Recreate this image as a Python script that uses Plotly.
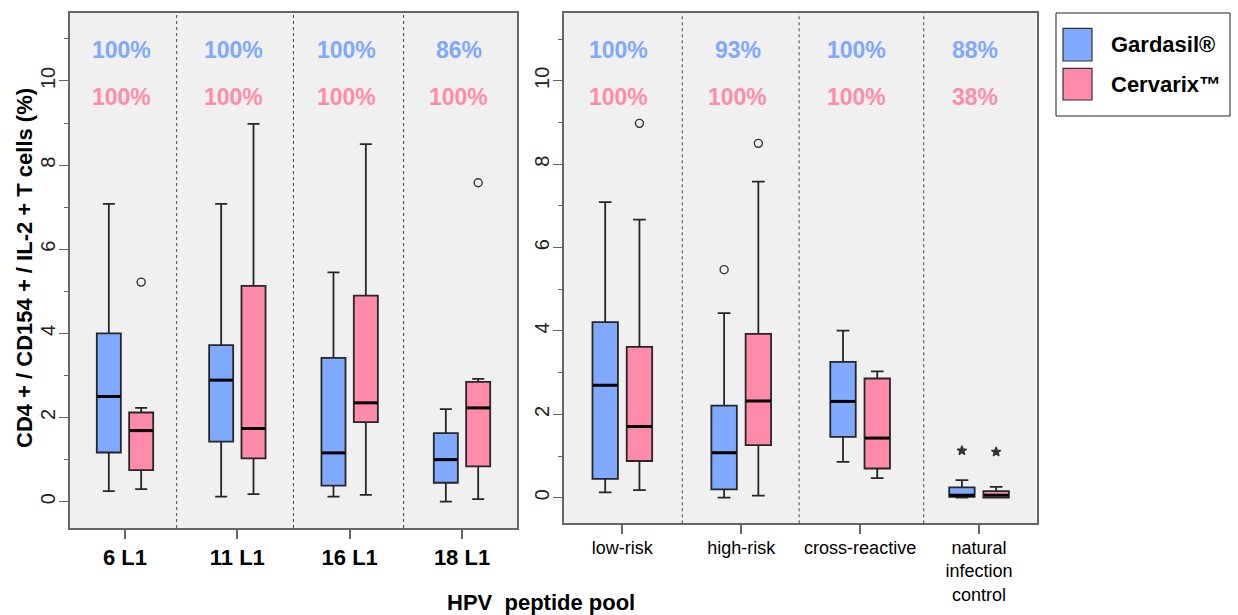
import plotly.graph_objects as go

# ---------------- data ----------------
categories_left = ["6 L1", "11 L1", "16 L1", "18 L1"]
categories_right = ["low-risk", "high-risk", "cross-reactive", "natural<br>infection<br>control"]

# Gardasil, left panel (lower whisker, Q1, median, Q3, upper whisker)
g_left_low = [0.25, 0.12, 0.12, 0.00]
g_left_q1 = [1.17, 1.43, 0.38, 0.45]
g_left_med = [2.50, 2.89, 1.16, 1.00]
g_left_q3 = [4.00, 3.72, 3.42, 1.63]
g_left_up = [7.08, 7.08, 5.45, 2.20]
# Cervarix, left panel
c_left_low = [0.30, 0.18, 0.16, 0.06]
c_left_q1 = [0.75, 1.03, 1.89, 0.84]
c_left_med = [1.69, 1.74, 2.35, 2.23]
c_left_q3 = [2.12, 5.13, 4.90, 2.85]
c_left_up = [2.23, 8.98, 8.50, 2.92]

# Gardasil, right panel
g_right_low = [0.13, 0.00, 0.86, 0.00]
g_right_q1 = [0.45, 0.20, 1.46, 0.02]
g_right_med = [2.70, 1.08, 2.31, 0.06]
g_right_q3 = [4.21, 2.21, 3.26, 0.25]
g_right_up = [7.09, 4.43, 4.01, 0.42]
# Cervarix, right panel
c_right_low = [0.18, 0.05, 0.47, 0.00]
c_right_q1 = [0.88, 1.26, 0.70, 0.00]
c_right_med = [1.71, 2.32, 1.43, 0.06]
c_right_q3 = [3.62, 3.93, 2.86, 0.16]
c_right_up = [6.67, 7.58, 3.03, 0.26]

# outliers (category index, value)
g_left_out_cat, g_left_out_val = [], []
c_left_out_cat, c_left_out_val = [0, 3], [5.22, 7.58]
g_right_out_cat, g_right_out_val = [1], [5.47]
c_right_out_cat, c_right_out_val = [0, 1], [8.98, 8.50]
# extreme values (stars)
g_right_ext_cat, g_right_ext_val = [3], [1.13]
c_right_ext_cat, c_right_ext_val = [3], [1.10]

# responder percentages
g_pct_left = ["100%", "100%", "100%", "86%"]
c_pct_left = ["100%", "100%", "100%", "100%"]
g_pct_right = ["100%", "93%", "100%", "88%"]
c_pct_right = ["100%", "100%", "100%", "38%"]

legend_names = ["Gardasil®", "Cervarix™"]
y_title = "CD4 + / CD154 + / IL-2 + T cells (%)"
x_title = "HPV  peptide pool"

# ---------------- style ----------------
W, H = 1238, 615
FONT = "Liberation Sans, Arial, sans-serif"
BLUE = "#7FAAFF"
PINK = "#FF8AAA"
BLUE_T = "#7FA8FF"
PINK_T = "#FF8CAB"
BG = "#F0F0F0"
FRAME = "#666666"
OFF = 0.144
BW = 0.214


def px_x(p):
    return p / W


def px_y(p):
    return 1 - p / H


fig = go.Figure()


def add_boxes(xa, ya, cats, low, q1, med, q3, up, color, sign):
    pos = [i + sign * OFF for i in range(len(cats))]
    fig.add_trace(go.Box(
        x=pos, q1=q1, median=med, q3=q3, lowerfence=low, upperfence=up,
        width=BW, whiskerwidth=0.5, fillcolor=color,
        line=dict(color="#262626", width=1.8), boxpoints=False,
        xaxis=xa, yaxis=ya, showlegend=False, hoverinfo="skip"))
    mx, my = [], []
    for p, m in zip(pos, med):
        mx += [p - BW / 2 + 0.004, p + BW / 2 - 0.004, None]
        my += [m, m, None]
    fig.add_trace(go.Scatter(x=mx, y=my, mode="lines",
                             line=dict(color="black", width=3),
                             xaxis=xa, yaxis=ya, showlegend=False, hoverinfo="skip"))


def add_points(xa, ya, cats, vals, sign, symbol):
    if not cats:
        return
    fig.add_trace(go.Scatter(
        x=[c + sign * OFF for c in cats], y=vals, mode="markers",
        marker=dict(symbol=symbol, size=8 if symbol == "circle-open" else 7,
                    color="#333333", line=dict(color="#333333", width=1.4)),
        xaxis=xa, yaxis=ya, showlegend=False, hoverinfo="skip"))


add_boxes("x", "y", categories_left, g_left_low, g_left_q1, g_left_med, g_left_q3, g_left_up, BLUE, -1)
add_boxes("x", "y", categories_left, c_left_low, c_left_q1, c_left_med, c_left_q3, c_left_up, PINK, 1)
add_boxes("x2", "y2", categories_right, g_right_low, g_right_q1, g_right_med, g_right_q3, g_right_up, BLUE, -1)
add_boxes("x2", "y2", categories_right, c_right_low, c_right_q1, c_right_med, c_right_q3, c_right_up, PINK, 1)

add_points("x", "y", g_left_out_cat, g_left_out_val, -1, "circle-open")
add_points("x", "y", c_left_out_cat, c_left_out_val, 1, "circle-open")
add_points("x2", "y2", g_right_out_cat, g_right_out_val, -1, "circle-open")
add_points("x2", "y2", c_right_out_cat, c_right_out_val, 1, "circle-open")
add_points("x2", "y2", g_right_ext_cat, g_right_ext_val, -1, "star")
add_points("x2", "y2", c_right_ext_cat, c_right_ext_val, 1, "star")

# percentage labels
annotations = []
for xr, gp, cp in (("x", g_pct_left, c_pct_left), ("x2", g_pct_right, c_pct_right)):
    yr = "y" if xr == "x" else "y2"
    for i, (a, b) in enumerate(zip(gp, cp)):
        annotations.append(dict(x=i - 0.03, y=10.74, xref=xr, yref=yr, text=a, showarrow=False,
                                font=dict(family=FONT, size=23, color=BLUE_T, weight="bold")))
        annotations.append(dict(x=i - 0.03, y=9.62, xref=xr, yref=yr, text=b, showarrow=False,
                                font=dict(family=FONT, size=23, color=PINK_T, weight="bold")))

# titles
annotations.append(dict(x=px_x(540.7), y=px_y(602), xref="paper", yref="paper", text=x_title,
                        showarrow=False, xanchor="center", yanchor="middle",
                        font=dict(family=FONT, size=22, color="black", weight="bold")))
annotations.append(dict(x=px_x(24), y=px_y(268), xref="paper", yref="paper", text=y_title,
                        textangle=-90, showarrow=False, xanchor="center", yanchor="middle",
                        font=dict(family=FONT, size=22, color="black", weight="bold")))

# legend (drawn)
shapes = []
shapes.append(dict(type="rect", xref="paper", yref="paper", x0=px_x(1056), x1=px_x(1230),
                   y0=px_y(116), y1=px_y(13), line=dict(color="#222222", width=1), fillcolor="white"))
for name, col, yt, yb in ((legend_names[0], BLUE, 28.3, 61), (legend_names[1], PINK, 68.3, 100)):
    shapes.append(dict(type="rect", xref="paper", yref="paper", x0=px_x(1063), x1=px_x(1092),
                       y0=px_y(yb), y1=px_y(yt), line=dict(color="#333333", width=1.2), fillcolor=col))
    annotations.append(dict(x=px_x(1109), y=px_y((yt + yb) / 2), xref="paper", yref="paper",
                            text=name, showarrow=False, xanchor="left", yanchor="middle",
                            font=dict(family=FONT, size=22, color="black", weight="bold")))

# dashed dividers
for xr, yr, divs in (("x", "y domain", [0.46, 1.5, 2.48]), ("x2", "y2 domain", [0.504, 1.487, 2.535])):
    for d in divs:
        shapes.append(dict(type="line", xref=xr, yref=yr, x0=d, x1=d, y0=0, y1=1,
                           line=dict(color="#444444", width=1, dash="3px,3px")))

yaxis_common = dict(
    tickmode="linear", tick0=0, dtick=2, ticks="outside", ticklen=9, tickwidth=1.3,
    tickcolor=FRAME, tickangle=-90, showgrid=False, zeroline=False,
    showline=True, linecolor=FRAME, linewidth=2, mirror=True, ticklabelstandoff=-4,
    tickfont=dict(family=FONT, size=20, color="#222222"),
    minor=dict(dtick=1, ticks="outside", ticklen=4, tickwidth=1.3, tickcolor=FRAME),
)
xaxis_common = dict(
    tickmode="array", tickvals=[0, 1, 2, 3], ticks="outside", ticklen=9, tickwidth=1.5,
    tickcolor=FRAME, showgrid=False, zeroline=False,
    showline=True, linecolor=FRAME, linewidth=2, mirror=True,
)

fig.update_layout(
    width=W, height=H, margin=dict(l=0, r=0, t=0, b=0),
    paper_bgcolor="white", plot_bgcolor=BG,
    showlegend=False,
    xaxis=dict(domain=[px_x(70), px_x(517)], range=[-0.4896, 3.4896], anchor="y",
               ticktext=categories_left,
               tickfont=dict(family=FONT, size=22, color="black", weight="bold"), **xaxis_common),
    yaxis=dict(domain=[px_y(528), px_y(13)], range=[-0.625, 11.616], anchor="x", **yaxis_common),
    xaxis2=dict(domain=[px_x(564.3), px_x(1036.7)], range=[-0.488, 3.485], anchor="y2",
                ticktext=categories_right, ticklabelstandoff=-2,
                tickfont=dict(family=FONT, size=18, color="black"), **xaxis_common),
    yaxis2=dict(domain=[px_y(523.3), px_y(13)], range=[-0.614, 11.627], anchor="x2", **yaxis_common),
    annotations=annotations, shapes=shapes,
)

fig.write_html("out.html")
